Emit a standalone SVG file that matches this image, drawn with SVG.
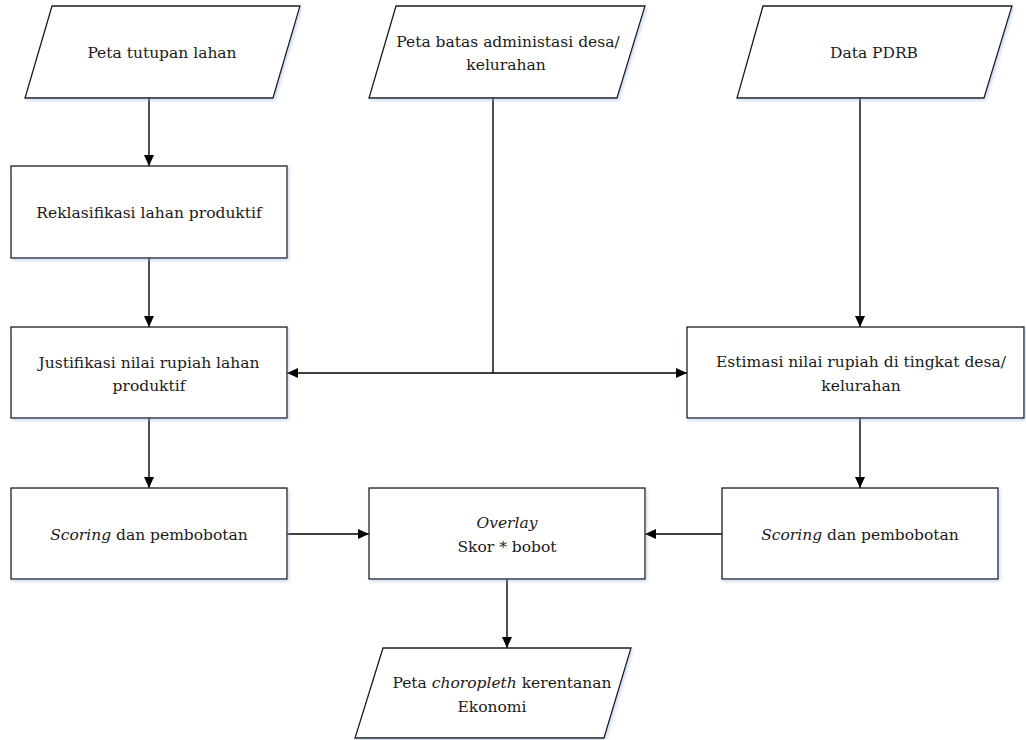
<svg xmlns="http://www.w3.org/2000/svg" width="1026" height="740" viewBox="0 0 1026 740">
  <style>
    .shape { fill: #ffffff; stroke: #1a1a1a; stroke-width: 1.3; filter: url(#shadow); }
    text { font-family: 'DejaVu Serif', 'Liberation Serif', serif; font-size: 15.5px; fill: #1a1a1a; text-anchor: middle; }
    .it { font-style: italic; }
    .wire { fill: none; stroke: #000000; stroke-width: 1.4; }
  </style>
  <defs>
    <filter id="shadow" x="-5%" y="-5%" width="115%" height="125%">
      <feDropShadow dx="1.5" dy="2" stdDeviation="1.5" flood-color="#8fb0dc" flood-opacity="0.45"/>
    </filter>
    <marker id="arrow" markerUnits="userSpaceOnUse" markerWidth="12" markerHeight="10" refX="11" refY="5" orient="auto">
      <path d="M0,0 L11,5 L0,10 Z" fill="#000000"/>
    </marker>
  </defs>

  <!-- connectors -->
  <g id="connectors">
    <line class="wire" x1="149" y1="98" x2="149" y2="166" marker-end="url(#arrow)"/>
    <line class="wire" x1="149" y1="258" x2="149" y2="327" marker-end="url(#arrow)"/>
    <line class="wire" x1="493" y1="98" x2="493" y2="373"/>
    <line class="wire" x1="493" y1="373" x2="287" y2="373" marker-end="url(#arrow)"/>
    <line class="wire" x1="493" y1="373" x2="687" y2="373" marker-end="url(#arrow)"/>
    <line class="wire" x1="860" y1="98" x2="860" y2="327" marker-end="url(#arrow)"/>
    <line class="wire" x1="149" y1="418" x2="149" y2="488" marker-end="url(#arrow)"/>
    <line class="wire" x1="860" y1="418" x2="860" y2="488" marker-end="url(#arrow)"/>
    <line class="wire" x1="287" y1="534" x2="369" y2="534" marker-end="url(#arrow)"/>
    <line class="wire" x1="722" y1="534" x2="645" y2="534" marker-end="url(#arrow)"/>
    <line class="wire" x1="507" y1="579" x2="507" y2="648" marker-end="url(#arrow)"/>
  </g>

  <!-- inputs -->
  <g id="peta-tutupan-lahan">
    <polygon class="shape" points="52,6 300,6 273,98 25,98"/>
    <text x="162" y="58">Peta tutupan lahan</text>
  </g>
  <g id="peta-batas-administrasi">
    <polygon class="shape" points="396,6 645,6 617,98 369,98"/>
    <text x="508" y="47">Peta batas administasi desa/</text>
    <text x="506" y="70">kelurahan</text>
  </g>
  <g id="data-pdrb">
    <polygon class="shape" points="763,6 1012,6 984,98 737,98"/>
    <text x="874" y="58">Data PDRB</text>
  </g>

  <!-- left branch -->
  <g id="reklasifikasi">
    <rect class="shape" x="11" y="166" width="276" height="92"/>
    <text x="149" y="218">Reklasifikasi lahan produktif</text>
  </g>
  <g id="justifikasi">
    <rect class="shape" x="11" y="327" width="276" height="91"/>
    <text x="149" y="368">Justifikasi nilai rupiah lahan</text>
    <text x="149" y="391">produktif</text>
  </g>
  <g id="scoring-kiri">
    <rect class="shape" x="11" y="488" width="276" height="91"/>
    <text x="149" y="540"><tspan class="it">Scoring</tspan> dan pembobotan</text>
  </g>

  <!-- right branch -->
  <g id="estimasi">
    <rect class="shape" x="687" y="327" width="337" height="91"/>
    <text x="861" y="367">Estimasi nilai rupiah di tingkat desa/</text>
    <text x="861" y="391">kelurahan</text>
  </g>
  <g id="scoring-kanan">
    <rect class="shape" x="722" y="488" width="276" height="91"/>
    <text x="860" y="540"><tspan class="it">Scoring</tspan> dan pembobotan</text>
  </g>

  <!-- combination and output -->
  <g id="overlay">
    <rect class="shape" x="369" y="488" width="276" height="91"/>
    <text class="it" x="507" y="528">Overlay</text>
    <text x="507" y="552">Skor * bobot</text>
  </g>
  <g id="peta-choropleth">
    <polygon class="shape" points="383,648 631,648 604,738 355,738"/>
    <text x="502" y="688">Peta <tspan class="it">choropleth</tspan> kerentanan</text>
    <text x="492" y="712">Ekonomi</text>
  </g>
</svg>
